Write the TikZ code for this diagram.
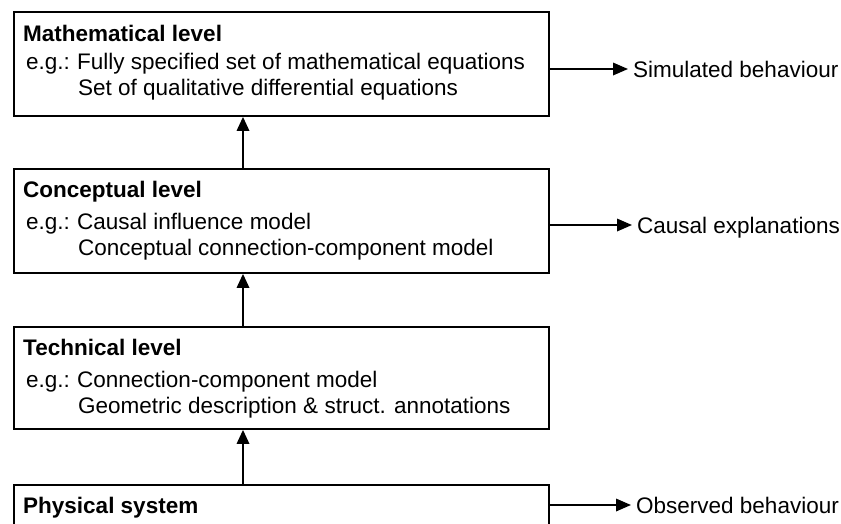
\documentclass[tikz,border=0pt]{standalone}
\usepackage{fontspec}
\setmainfont{Liberation Sans}
\usetikzlibrary{arrows.meta,calc}
\tikzset{
  levelbox/.style={draw=black, line width=1.9pt, rectangle, inner sep=0pt, minimum width=535pt, anchor=north west},
  title/.style={anchor=base west, inner sep=0pt, font=\fontsize{22.5}{26}\selectfont\bfseries},
  txt/.style={anchor=base west, inner sep=0pt, font=\fontsize{22.5}{26}\selectfont},
  lab/.style={anchor=base west, inner sep=0pt, font=\fontsize{22.5}{26}\selectfont},
  uparrow/.style={line width=1.8pt, -{Triangle[length=14pt,width=12.5pt]}},
  outarrow/.style={line width=1.8pt, -{Triangle[length=15pt,width=12.5pt]}, shorten >=5pt}
}
\begin{document}
\begin{tikzpicture}[x=1pt,y=1pt]
\clip (0,0) rectangle (841,-523);
\fill[white] (0,0) rectangle (841,-523);
% boxes
\node[levelbox, minimum height=104pt] (m) at (13,-11) {};
\node[levelbox, minimum height=104pt] (c) at (13,-168) {};
\node[levelbox, minimum height=102pt] (t) at (13,-326) {};
\node[levelbox, minimum height=90pt] (p) at (13,-484) {};
% mathematical
\node[title] (mt) at ($(m.north west)+(10,-30)$) {Mathematical level};
\node[txt] (me) at ($(m.north west)+(13,-58)$) {e.g.:};
\node[txt] (m1) at ($(m.north west)+(64,-58)$) {Fully specified set of mathematical equations};
\node[txt] (m2) at ($(m.north west)+(65,-84)$) {Set of qualitative differential equations};
% conceptual
\node[title] (ct) at ($(c.north west)+(10,-29)$) {Conceptual level};
\node[txt] (ce) at ($(c.north west)+(13,-61)$) {e.g.:};
\node[txt] (c1) at ($(c.north west)+(64,-61)$) {Causal influence model};
\node[txt] (c2) at ($(c.north west)+(65,-87)$) {Conceptual connection-component model};
% technical
\node[title] (tt) at ($(t.north west)+(10,-29)$) {Technical level};
\node[txt] (te) at ($(t.north west)+(13,-61)$) {e.g.:};
\node[txt] (t1) at ($(t.north west)+(64,-61)$) {Connection-component model};
\node[txt] (t2) at ($(t.north west)+(65,-87)$) {Geometric description \& struct. annotations};
% physical
\node[title] (pt) at ($(p.north west)+(10,-29)$) {Physical system};
% right labels
\node[lab] (sim) at (633,-77) {Simulated behaviour};
\node[lab] (cau) at (637,-233) {Causal explanations};
\node[lab] (obs) at (636,-513) {Observed behaviour};
% vertical arrows
\coordinate (ax) at (243,0);
\draw[uparrow] (c.north -| ax) -- (m.south -| ax);
\draw[uparrow] (t.north -| ax) -- (c.south -| ax);
\draw[uparrow] (p.north -| ax) -- (t.south -| ax);
% outgoing arrows
\coordinate (sy) at (0,-69);
\coordinate (cy) at (0,-225);
\coordinate (oy) at (0,-505);
\draw[outarrow] (m.east |- sy) -- (sim.west |- sy);
\draw[outarrow] (c.east |- cy) -- (cau.west |- cy);
\draw[outarrow] (p.east |- oy) -- (obs.west |- oy);
\end{tikzpicture}
\end{document}
